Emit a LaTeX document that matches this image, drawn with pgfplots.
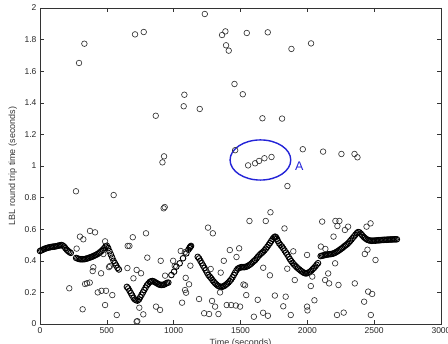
\documentclass[border=0pt]{standalone}
\usepackage{pgfplots}
\usepackage{pgfplotstable}
\pgfplotsset{compat=1.18}
\usepackage{fontspec}
\setmainfont{Liberation Sans}
\definecolor{annot}{RGB}{35,35,215}

% main band of round-trip times (time, seconds)
\pgfplotstableread{
t v
0 0.462
10 0.466
20 0.470
30 0.474
40 0.478
50 0.480
60 0.483
70 0.485
80 0.487
90 0.488
100 0.490
110 0.490
120 0.492
130 0.494
140 0.496
150 0.498
160 0.500
170 0.497
180 0.490
190 0.480
200 0.470
210 0.462
220 0.455
230 0.450
270 0.418
280 0.415
290 0.412
300 0.410
310 0.410
320 0.410
330 0.410
340 0.412
350 0.414
360 0.417
370 0.420
380 0.423
390 0.426
400 0.430
410 0.434
420 0.438
430 0.443
440 0.448
450 0.455
460 0.462
470 0.470
480 0.480
490 0.490
500 0.495
510 0.480
520 0.460
530 0.440
540 0.420
550 0.400
560 0.385
570 0.370
580 0.355
590 0.345
650 0.235
660 0.225
670 0.210
680 0.195
690 0.180
700 0.165
710 0.155
720 0.150
730 0.148
740 0.155
750 0.170
760 0.185
770 0.200
780 0.215
790 0.230
800 0.245
810 0.255
820 0.265
830 0.270
840 0.272
850 0.270
860 0.265
870 0.260
880 0.255
890 0.250
900 0.248
910 0.247
920 0.248
930 0.250
940 0.255
950 0.260
960 0.262
983 0.310
1003 0.331
1020 0.363
1045 0.384
1070 0.416
1095 0.447
1110 0.470
1118 0.480
1122 0.486
1126 0.490
1130 0.494
1180 0.425
1190 0.415
1200 0.400
1210 0.385
1220 0.370
1230 0.355
1240 0.340
1250 0.325
1260 0.310
1270 0.300
1280 0.290
1290 0.278
1300 0.268
1310 0.258
1320 0.250
1330 0.243
1340 0.238
1350 0.235
1360 0.235
1370 0.238
1380 0.242
1390 0.248
1400 0.255
1410 0.263
1420 0.272
1430 0.282
1440 0.295
1450 0.310
1460 0.325
1470 0.340
1480 0.350
1490 0.355
1500 0.358
1510 0.360
1520 0.360
1530 0.360
1540 0.362
1550 0.365
1560 0.370
1570 0.375
1580 0.382
1590 0.390
1600 0.398
1610 0.405
1620 0.415
1630 0.425
1640 0.435
1650 0.443
1660 0.450
1670 0.458
1680 0.467
1690 0.477
1700 0.488
1710 0.500
1720 0.512
1730 0.525
1740 0.538
1750 0.548
1758 0.553
1765 0.550
1772 0.540
1780 0.525
1790 0.510
1800 0.500
1810 0.490
1820 0.478
1830 0.465
1840 0.452
1850 0.440
1860 0.425
1870 0.410
1880 0.398
1890 0.387
1900 0.377
1910 0.368
1920 0.360
1930 0.352
1940 0.345
1950 0.338
1960 0.332
1970 0.326
1980 0.322
1990 0.320
2000 0.322
2010 0.326
2020 0.330
2030 0.338
2040 0.347
2050 0.355
2060 0.365
2070 0.375
2080 0.385
2100 0.430
2110 0.432
2120 0.434
2130 0.436
2140 0.438
2150 0.440
2160 0.441
2170 0.442
2180 0.443
2190 0.445
2200 0.448
2210 0.452
2220 0.457
2230 0.462
2240 0.468
2250 0.474
2260 0.480
2270 0.487
2280 0.494
2290 0.500
2300 0.507
2310 0.515
2320 0.525
2330 0.535
2340 0.545
2350 0.555
2360 0.565
2370 0.575
2380 0.582
2390 0.580
2400 0.572
2410 0.562
2420 0.552
2430 0.545
2440 0.538
2450 0.533
2460 0.530
2470 0.528
2480 0.527
2490 0.527
2500 0.528
2510 0.528
2520 0.529
2530 0.530
2540 0.530
2550 0.531
2560 0.532
2570 0.532
2580 0.533
2590 0.533
2600 0.534
2610 0.534
2620 0.535
2630 0.535
2640 0.535
2650 0.536
2660 0.536
2670 0.536
}\bandtable

% scattered samples
\pgfplotstableread{
t v
292 1.652
332 1.774
711 1.833
776 1.848
866 1.318
916 1.023
928 1.061
1075 1.378
1080 1.451
1195 1.361
1233 1.962
1362 1.829
1387 1.852
1392 1.764
1412 1.730
1455 1.519
1517 1.454
1547 1.842
1704 1.846
1881 1.741
2028 1.776
1664 1.302
1811 1.300
1557 1.004
1609 1.017
1639 1.032
1679 1.049
1732 1.057
1460 1.100
1966 1.106
2118 1.091
2255 1.076
2353 1.076
2375 1.055
1851 0.873
269 0.840
551 0.816
925 0.732
933 0.740
1724 0.707
1567 0.652
1689 0.652
1829 0.605
374 0.589
412 0.580
299 0.553
324 0.536
694 0.549
793 0.574
656 0.494
669 0.494
487 0.523
274 0.477
803 0.420
903 0.400
474 0.443
399 0.359
394 0.335
457 0.321
516 0.360
524 0.367
654 0.354
723 0.342
756 0.321
699 0.289
936 0.306
337 0.253
352 0.258
372 0.262
219 0.226
432 0.200
460 0.210
494 0.210
541 0.183
319 0.093
487 0.120
574 0.057
723 0.015
728 0.018
743 0.103
773 0.061
868 0.110
898 0.089
1053 0.462
1083 0.454
996 0.400
1008 0.367
1090 0.292
1085 0.215
1093 0.198
1063 0.135
1115 0.251
1125 0.369
1190 0.158
1228 0.068
1265 0.063
1335 0.063
1257 0.610
1293 0.574
1287 0.146
1310 0.110
1277 0.348
1352 0.325
1375 0.400
1347 0.200
1397 0.120
1430 0.120
1465 0.117
1497 0.110
1420 0.468
1490 0.479
1470 0.424
1522 0.250
1534 0.245
1543 0.183
1629 0.153
1757 0.180
1838 0.173
1820 0.112
1600 0.046
1669 0.071
1705 0.052
1876 0.057
1998 0.110
2001 0.086
2053 0.150
2026 0.240
2037 0.300
1906 0.278
1670 0.356
1720 0.308
1895 0.460
1998 0.437
1850 0.350
2111 0.648
2210 0.652
2240 0.652
2225 0.620
2196 0.553
2101 0.490
2135 0.475
2208 0.384
2133 0.278
2163 0.257
2156 0.320
2233 0.247
2222 0.057
2272 0.072
2281 0.595
2305 0.616
2443 0.616
2473 0.637
2450 0.470
2430 0.443
2510 0.405
2355 0.257
2455 0.205
2485 0.190
2425 0.141
2475 0.057
}\scattertable

\begin{document}
\begin{tikzpicture}
\begin{axis}[
  scale only axis,
  width=401pt, height=316pt,
  xmin=0, xmax=3000, ymin=0, ymax=2,
  xtick={0,500,1000,1500,2000,2500,3000},
  ytick={0,0.2,0.4,0.6,0.8,1,1.2,1.4,1.6,1.8,2},
  yticklabels={0,0.2,0.4,0.6,0.8,1,1.2,1.4,1.6,1.8,2},
  scaled x ticks=false, scaled y ticks=false,
  /pgf/number format/1000 sep={},
  /pgf/number format/assume math mode=true,
  tick align=inside, tick pos=both,
  major tick length=4pt,
  axis line style={black!80, line width=0.5pt},
  tick style={black!80, line width=0.5pt},
  ticklabel style={font=\fontsize{8.5}{9}\selectfont, text=black!85},
  label style={font=\fontsize{9}{10}\selectfont, text=black!80},
  xlabel={Time (seconds)},
  ylabel={LBL round trip time (seconds)},
  xlabel style={at={(axis description cs:0.5,-0.062)}, anchor=center},
  ylabel style={at={(axis description cs:-0.068,0.5)}, anchor=center},
  clip=false,
]
\addplot[only marks, mark=o, mark size=2.8pt, black, mark options={line width=0.9pt}] table[x=t, y=v] {\bandtable};
\addplot[only marks, mark=o, mark size=2.8pt, black!80, mark options={line width=0.65pt}] table[x=t, y=v] {\scattertable};
\draw[annot, line width=1.4pt] (axis cs:1649,1.038) ellipse [x radius=227, y radius=0.127];
\node[annot, font=\fontsize{12.5}{12.5}\selectfont, anchor=center] at (axis cs:1939,1.0) {A};
\end{axis}
\pgfresetboundingbox
\useasboundingbox (-40pt,-20pt) rectangle (408pt,324pt);
\end{tikzpicture}
\end{document}
